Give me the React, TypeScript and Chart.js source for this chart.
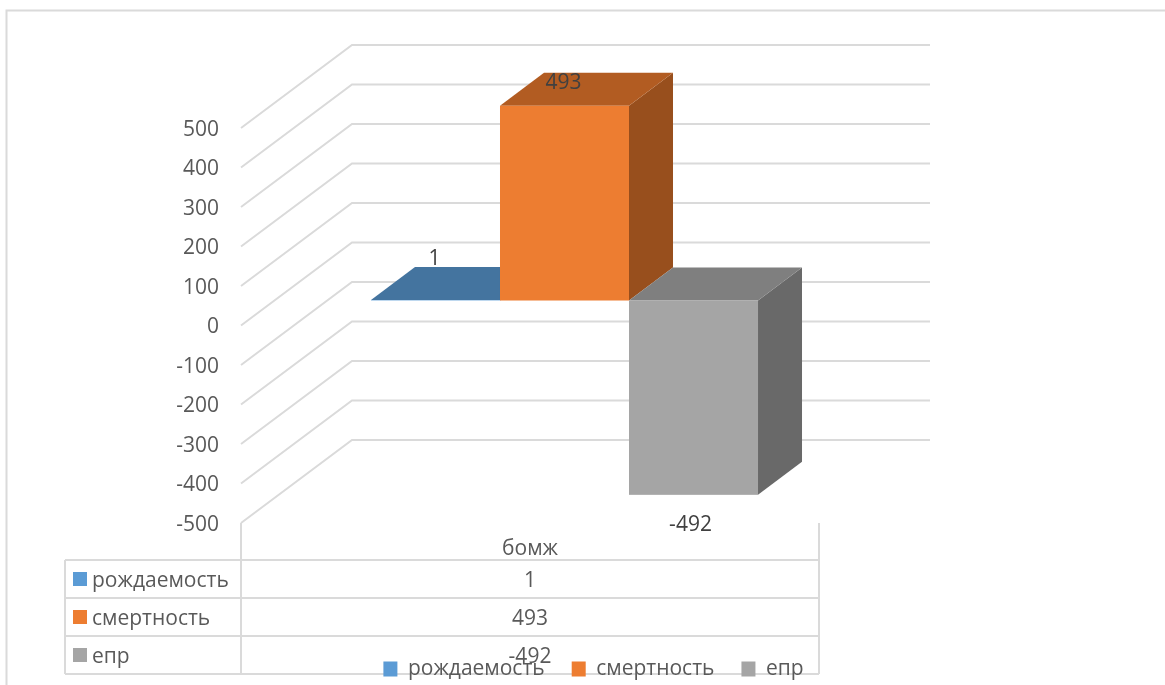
import React, { useEffect, useRef } from "react";
import { Chart, registerables } from "chart.js";

Chart.register(...registerables);

const categories = ["бомж"];
const seriesNames = ["рождаемость", "смертность", "епр"];
const birthValues = [1];
const deathValues = [493];
const eprValues = [-492];
const tickValues = [500, 400, 300, 200, 100, 0, -100, -200, -300, -400, -500];
const faceColors = ["#5B9BD5", "#ED7D31", "#A5A5A5"];
const topColors = ["#44749F", "#B25C22", "#7F7F7F"];
const sideColors = ["#3B668E", "#984F1D", "#696969"];

const FONT = '"Open Sans", sans-serif';
const FONT_SIZE = 21;
const GRID = "#DADADA";
const TEXT = "#595959";
const LABEL = "#404040";

const wallDx = 111;
const wallDy = 83;
const barShiftX = 34.5;
const barShiftY = 25;
const depthX = 44;
const depthY = 33;
const plotRightExtra = 1165 - 819;

function poly(ctx: CanvasRenderingContext2D, pts: number[][], fill: string) {
  ctx.fillStyle = fill;
  ctx.beginPath();
  pts.forEach((p, i) => (i ? ctx.lineTo(p[0], p[1]) : ctx.moveTo(p[0], p[1])));
  ctx.closePath();
  ctx.fill();
}

function line(ctx: CanvasRenderingContext2D, pts: number[][]) {
  ctx.beginPath();
  pts.forEach((p, i) => (i ? ctx.lineTo(p[0], p[1]) : ctx.moveTo(p[0], p[1])));
  ctx.stroke();
}

const backdrop = {
  id: "backdrop",
  afterLayout(chart: any) {
    const lg = chart.legend;
    lg.left += 184;
    lg.right += 184;
    lg.top = 669 - FONT_SIZE / 2 - lg.options.labels.padding;
  },
  beforeDraw(chart: any) {
    const ctx = chart.ctx as CanvasRenderingContext2D;
    const { left, right, bottom } = chart.chartArea;
    const y = chart.scales.y;
    if (!y.$shifted) {
      y.getLabelItems().forEach((it: any) => {
        it.options.translation[1] += 2;
      });
      y.$shifted = true;
    }
    ctx.save();
    ctx.strokeStyle = GRID;
    ctx.lineWidth = 2;
    line(ctx, [[6.5, 685], [6.5, 10.5], [1165, 10.5]]);
    tickValues.forEach((v) => {
      const py = y.getPixelForValue(v);
      line(ctx, [[left, py], [left + wallDx, py - wallDy], [right + wallDx, py - wallDy]]);
    });
    const rows = [560, 598, 636, 674];
    rows.forEach((r) => line(ctx, [[65, r], [right, r]]));
    line(ctx, [[65, 560], [65, 674]]);
    line(ctx, [[left, bottom], [left, 674]]);
    line(ctx, [[right, bottom], [right, 674]]);

    const series = [birthValues, deathValues, eprValues];
    ctx.font = `${FONT_SIZE}px ${FONT}`;
    ctx.textBaseline = "middle";
    seriesNames.forEach((name, i) => {
      const cy = rows[i] + 19;
      ctx.fillStyle = faceColors[i];
      ctx.fillRect(73, cy - 7, 14, 14);
      ctx.fillStyle = TEXT;
      ctx.textAlign = "left";
      ctx.fillText(name, 92, cy + 2);
      ctx.textAlign = "center";
      ctx.fillText(String(series[i][0]), (left + right) / 2, cy + 2);
    });
    ctx.restore();
  },
  beforeDatasetsDraw(chart: any) {
    const ctx = chart.ctx as CanvasRenderingContext2D;
    chart.data.datasets.forEach((_: any, i: number) => {
      chart.getDatasetMeta(i).data.forEach((el: any) => {
        const x0 = el.x - el.width / 2 + barShiftX;
        const x1 = el.x + el.width / 2 + barShiftX;
        const t = Math.min(el.y, el.base) - barShiftY;
        const b = Math.max(el.y, el.base) - barShiftY;
        poly(ctx, [[x1, t], [x1 + depthX, t - depthY], [x1 + depthX, b - depthY], [x1, b]], sideColors[i]);
        poly(ctx, [[x0, t], [x0 + depthX, t - depthY], [x1 + depthX, t - depthY], [x1, t]], topColors[i]);
        ctx.fillStyle = faceColors[i];
        ctx.fillRect(x0, t, x1 - x0, b - t);
      });
    });
  },
  beforeDatasetDraw() {
    return false;
  },
  afterDatasetsDraw(chart: any) {
    const ctx = chart.ctx as CanvasRenderingContext2D;
    const offsets = [[-1, -41], [-1, -23], [-3, 30]];
    ctx.save();
    ctx.font = `${FONT_SIZE}px ${FONT}`;
    ctx.textAlign = "center";
    ctx.textBaseline = "middle";
    ctx.fillStyle = LABEL;
    chart.data.datasets.forEach((ds: any, i: number) => {
      const el = chart.getDatasetMeta(i).data[0];
      const edge = ds.data[0] < 0 ? el.y : Math.min(el.y, el.base);
      ctx.fillText(String(ds.data[0]), el.x + barShiftX + offsets[i][0], edge - barShiftY + offsets[i][1]);
    });
    ctx.restore();
  },
};

export default function App() {
  const ref = useRef<HTMLCanvasElement>(null);
  useEffect(() => {
    const chart = new Chart(ref.current!, {
      type: "bar",
      data: {
        labels: categories,
        datasets: [
          { label: seriesNames[0], data: birthValues, backgroundColor: faceColors[0] },
          { label: seriesNames[1], data: deathValues, backgroundColor: faceColors[1] },
          { label: seriesNames[2], data: eprValues, backgroundColor: faceColors[2] },
        ],
      },
      options: {
        animation: false,
        responsive: false,
        layout: { padding: { top: 128, right: plotRightExtra, left: 0, bottom: 0 } },
        datasets: { bar: { categoryPercentage: 0.6696, barPercentage: 1 } },
        plugins: {
          tooltip: { enabled: false },
          legend: {
            position: "bottom",
            labels: {
              font: { family: FONT, size: FONT_SIZE },
              color: TEXT,
              boxWidth: 14,
              boxHeight: 15,
              padding: 27,
            },
          },
        },
        scales: {
          x: {
            grid: { display: false },
            border: { display: false },
            ticks: { font: { family: FONT, size: FONT_SIZE }, color: TEXT, padding: 5 },
            afterFit: (s: any) => {
              s.height = 162 - (s.chart.legend?.height ?? 0);
            },
          },
          y: {
            min: -500,
            max: 500,
            grid: { display: false },
            border: { display: false },
            ticks: {
              stepSize: 100,
              font: { family: FONT, size: FONT_SIZE },
              color: TEXT,
              padding: 14,
            },
            afterFit: (s: any) => {
              s.width = 241;
            },
          },
        },
      } as any,
      plugins: [backdrop],
    });
    return () => chart.destroy();
  }, []);
  return (
    <canvas
      ref={ref}
      width={1165}
      height={685}
      style={{ position: "absolute", left: 0, top: 0, display: "block" }}
    />
  );
}
